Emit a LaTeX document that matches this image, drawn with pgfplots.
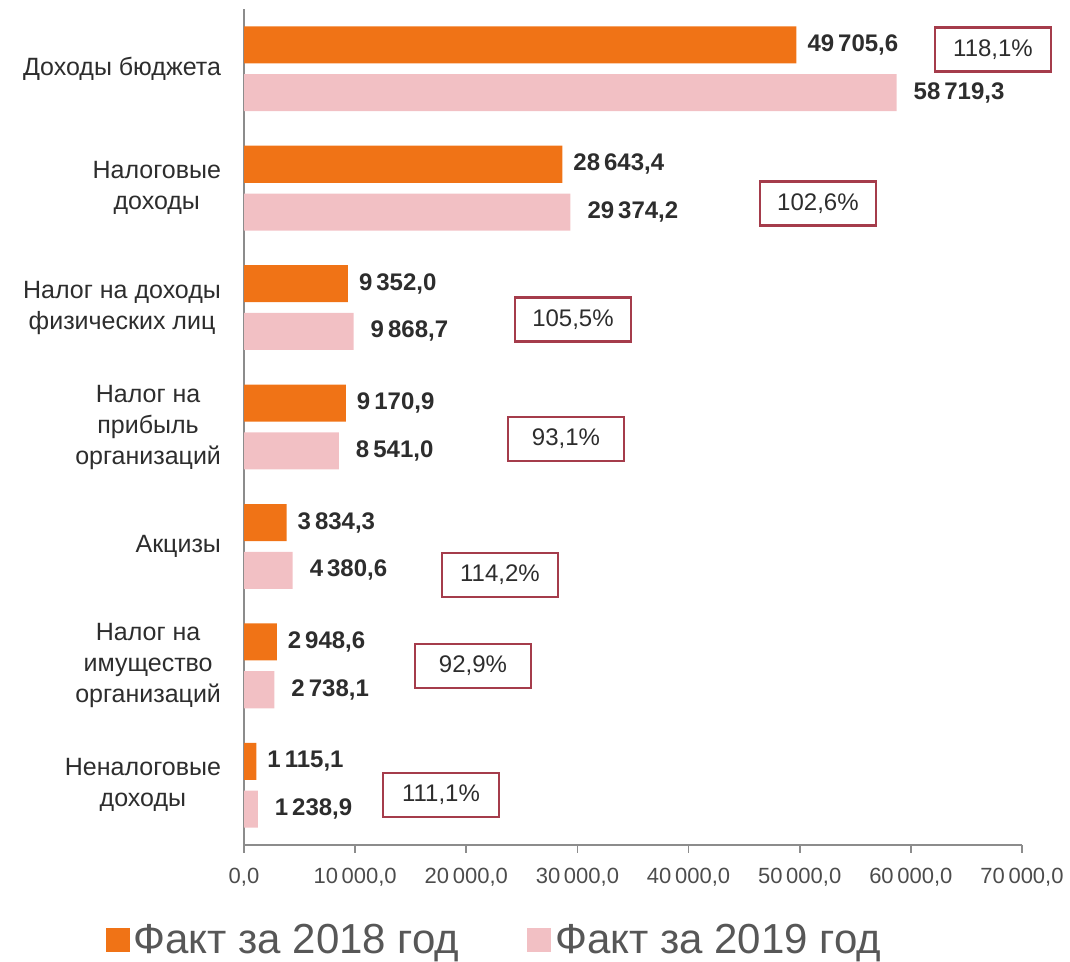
\documentclass[border=0pt]{standalone}
\usepackage{pgfplots}
\pgfplotsset{compat=1.18}
\usepackage{fontspec}
\setmainfont{Liberation Sans}
\definecolor{c18}{RGB}{240,115,22}
\definecolor{c19}{RGB}{242,192,196}
\definecolor{boxred}{RGB}{165,60,75}
\definecolor{axgray}{RGB}{140,140,140}
\definecolor{txt}{RGB}{45,45,45}
\begin{document}
\begin{tikzpicture}
\begin{axis}[
  at={(122pt,58.5pt)}, anchor=south west,
  scale only axis, width=389pt, height=418pt,
  xmin=0, xmax=70000, ymin=-0.5, ymax=6.5,
  clip=false,
  axis x line*=bottom, axis y line*=left,
  axis line style={axgray, line width=0.8pt, -},
  xtick={0,10000,...,70000},
  scaled x ticks=false,
  /pgf/number format/assume math mode=true,
  xticklabel={\pgfmathprintnumber[fixed,fixed zerofill,precision=1,use comma,1000 sep={\,}]{\tick}},
  xticklabel style={font=\fontsize{11}{13}\selectfont, text=txt!85, yshift=-4pt},
  x tick style={axgray, line width=0.8pt},
  tick align=outside, major tick length=4pt,
  ytick={0,...,6},
  yticklabels={{Неналоговые\\доходы},{Налог на\\имущество\\организаций},{Акцизы},{Налог на\\прибыль\\организаций},{Налог на доходы\\физических лиц},{Налоговые\\доходы},{Доходы бюджета}},
  yticklabel style={align=center, font=\fontsize{12.5}{15.5}\selectfont, text=txt, xshift=-4pt},
  y tick style={draw=none},
  legend style={at={(0.323,-0.114)}, anchor=center, draw=none, fill=none,
    legend columns=2, font=\fontsize{21}{25}\selectfont, text=txt!80,
    /tikz/every even column/.append style={column sep=32pt}},
  legend image code/.code={\fill[#1] (2pt,-6pt) rectangle (14pt,6pt);},
]
\addplot[xbar, bar width=0.31, bar shift=0pt, fill=c18, draw=none,
  point meta=x,
  nodes near coords={\pgfmathprintnumber[fixed,fixed zerofill,precision=1,use comma,1000 sep={\,}]{\pgfplotspointmeta}},
  nodes near coords style={anchor=west, font=\bfseries\fontsize{12}{14}\selectfont, text=txt, xshift=2pt}]
  table {
x y
1115.1 0.2
2948.6 1.2
3834.3 2.2
9170.9 3.2
9352.0 4.2
28643.4 5.2
49705.6 6.2
};
\addlegendentry{Факт за 2018 год}
\addplot[xbar, bar width=0.31, bar shift=0pt, fill=c19, draw=none,
  point meta=x,
  nodes near coords={\pgfmathprintnumber[fixed,fixed zerofill,precision=1,use comma,1000 sep={\,}]{\pgfplotspointmeta}},
  nodes near coords style={anchor=west, font=\bfseries\fontsize{12}{14}\selectfont, text=txt, xshift=5pt}]
  table {
x y
1238.9 -0.2
2738.1 0.8
4380.6 1.8
8541.0 2.8
9868.7 3.8
29374.2 4.8
58719.3 5.8
};
\addlegendentry{Факт за 2019 год}
\addplot[only marks, mark=none, forget plot,
  point meta=explicit symbolic,
  nodes near coords={\pgfplotspointmeta\%},
  nodes near coords style={anchor=center, draw=boxred, line width=1.2pt,
    minimum width=58pt, minimum height=22pt, font=\fontsize{12}{14}\selectfont, text=txt}]
  table[meta=label] {
x y label
67390 6.16 118,1
51640 4.87 102,6
29600 3.90 105,5
28970 2.90 93,1
23030 1.76 114,2
20600 1.00 92,9
17720 -0.08 111,1
};
\end{axis}
\pgfresetboundingbox
\path (0,0) rectangle (535pt,481pt);
\end{tikzpicture}
\end{document}
